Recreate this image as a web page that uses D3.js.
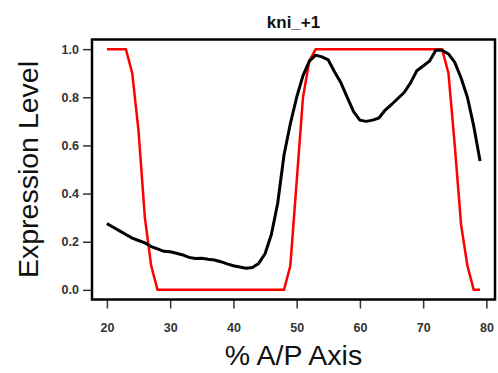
<!DOCTYPE html>
<html>
<head>
<meta charset="utf-8">
<script src="https://cdn.jsdelivr.net/npm/d3@7"></script>
<style>
  body { margin: 0; background: #fff; }
  text { font-family: "Liberation Sans", Arial, sans-serif; }
</style>
</head>
<body>
<div id="chart"></div>
<script>
const title = 'kni_+1';
const xLabel = '% A/P Axis';
const yLabel = 'Expression Level';

const positions = d3.range(20, 80); // 20..79, % A/P

// measured expression (black)
const expression = [
  0.275, 0.26, 0.245, 0.23, 0.215, 0.205, 0.195, 0.18, 0.17, 0.16,
  0.158, 0.152, 0.145, 0.135, 0.13, 0.131, 0.127, 0.124, 0.117, 0.108,
  0.10, 0.095, 0.09, 0.093, 0.11, 0.15, 0.23, 0.36, 0.56, 0.69,
  0.80, 0.89, 0.95, 0.975, 0.968, 0.955, 0.905, 0.86, 0.80, 0.74,
  0.705, 0.70, 0.705, 0.714, 0.747, 0.77, 0.795, 0.82, 0.86, 0.91,
  0.93, 0.95, 0.995, 0.995, 0.98, 0.945, 0.88, 0.80, 0.68, 0.535
];

// predicted pattern (red)
const predicted = [
  1, 1, 1, 1, 0.9, 0.66, 0.3, 0.1, 0, 0,
  0, 0, 0, 0, 0, 0, 0, 0, 0, 0,
  0, 0, 0, 0, 0, 0, 0, 0, 0, 0.1,
  0.45, 0.8, 0.95, 1, 1, 1, 1, 1, 1, 1,
  1, 1, 1, 1, 1, 1, 1, 1, 1, 1,
  1, 1, 1, 1, 0.9, 0.6, 0.27, 0.1, 0, 0
];

const xTicks = [20, 30, 40, 50, 60, 70, 80];
const yTicks = [0, 0.2, 0.4, 0.6, 0.8, 1.0];

const W = 498, H = 373;
const box = {left: 92, right: 495, top: 39.5, bottom: 299.5};

// R style: 4% padding around data range
const xPad = (79 - 20) * 0.04;
const x = d3.scaleLinear()
  .domain([20 - xPad, 79 + xPad])
  .range([box.left, box.right]);

const y = d3.scaleLinear()
  .domain([-0.04, 1.04])
  .range([box.bottom, box.top]);

const svg = d3.select('#chart')
  .append('svg')
  .attr('width', W)
  .attr('height', H);

const line = d3.line()
  .x((d, i) => x(positions[i]))
  .y(d => y(d));

svg.append('path')
  .datum(predicted)
  .attr('fill', 'none')
  .attr('stroke', '#ff0000')
  .attr('stroke-width', 2.5)
  .attr('stroke-linejoin', 'round')
  .attr('d', line);

svg.append('path')
  .datum(expression)
  .attr('fill', 'none')
  .attr('stroke', '#000')
  .attr('stroke-width', 3)
  .attr('stroke-linejoin', 'round')
  .attr('d', line);

// axes
const xAxis = d3.axisBottom(x)
  .tickValues(xTicks)
  .tickSize(9)
  .tickPadding(15)
  .tickFormat(d3.format('d'));

const yAxis = d3.axisLeft(y)
  .tickValues(yTicks)
  .tickSize(9)
  .tickPadding(4)
  .tickFormat(d3.format('.1f'));

const gx = svg.append('g')
  .attr('transform', `translate(0,${box.bottom})`)
  .call(xAxis);

const gy = svg.append('g')
  .attr('transform', `translate(${box.left},0)`)
  .call(yAxis);

[gx, gy].forEach(g => {
  g.select('.domain').remove();
  g.selectAll('.tick line').attr('stroke', '#333').attr('stroke-width', 1.5);
  g.selectAll('.tick text')
    .attr('fill', '#333')
    .style('font-size', '12.5px')
    .style('font-weight', 'bold');
});

// box
svg.append('rect')
  .attr('x', box.left)
  .attr('y', box.top)
  .attr('width', box.right - box.left)
  .attr('height', box.bottom - box.top)
  .attr('fill', 'none')
  .attr('stroke', '#000')
  .attr('stroke-width', 2.5);

// titles
svg.append('text')
  .attr('x', (box.left + box.right) / 2)
  .attr('y', 28)
  .attr('text-anchor', 'middle')
  .style('font-size', '17px')
  .style('font-weight', 'bold')
  .attr('fill', '#111')
  .text(title);

svg.append('text')
  .attr('x', (box.left + box.right) / 2)
  .attr('y', 365)
  .attr('text-anchor', 'middle')
  .style('font-size', '28.5px')
  .attr('fill', '#111')
  .text(xLabel);

svg.append('text')
  .attr('transform', `translate(38,${(box.top + box.bottom) / 2}) rotate(-90)`)
  .attr('text-anchor', 'middle')
  .style('font-size', '28.5px')
  .attr('fill', '#111')
  .text(yLabel);
</script>
</body>
</html>
